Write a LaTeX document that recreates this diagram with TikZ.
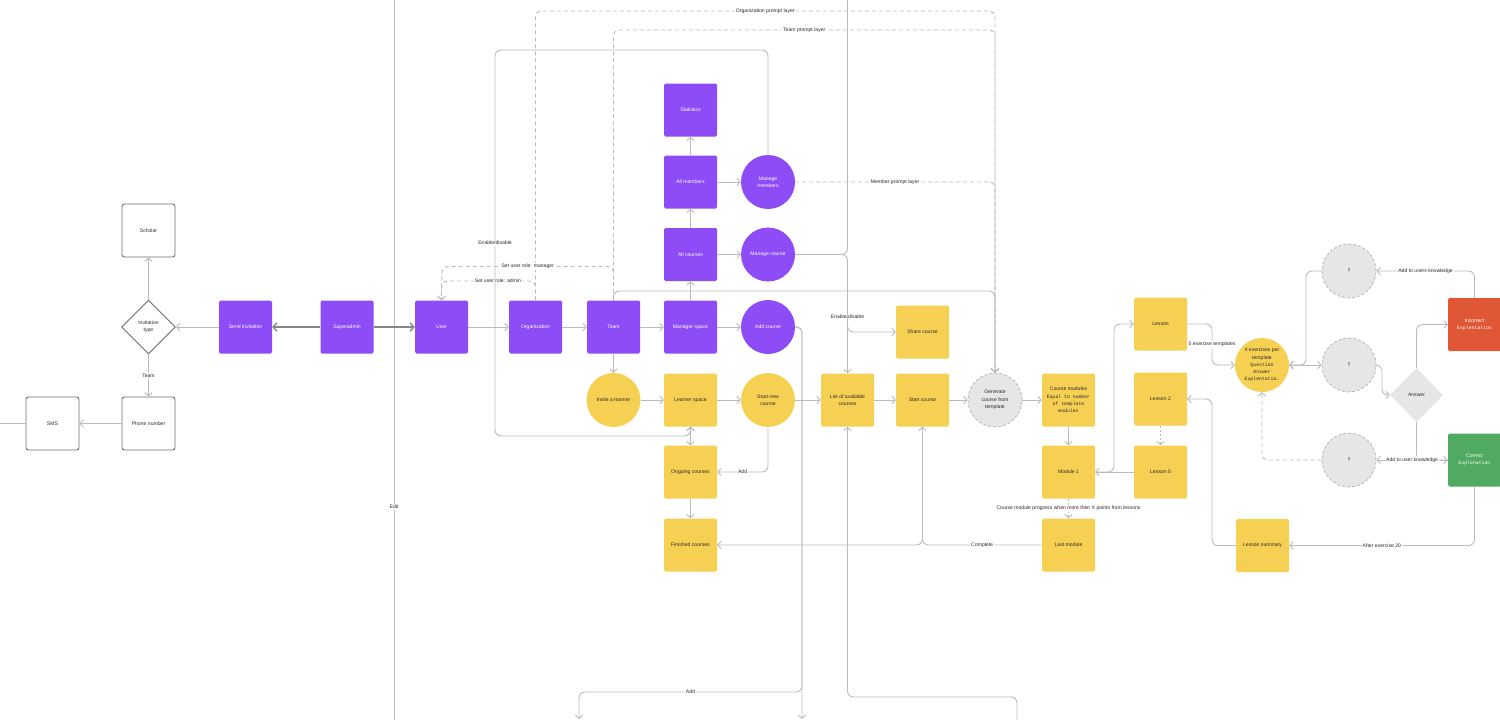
\documentclass[tikz,border=0pt]{standalone}
\usepackage{fontspec}
\setmainfont{Liberation Sans}
\newfontfamily\monof{Liberation Mono}
\newcommand\mtx[1]{{\monof\fontsize{4.8pt}{7.3pt}\selectfont #1}}
\usetikzlibrary{arrows.meta,shapes.geometric}
\definecolor{purp}{HTML}{8D4CF6}
\definecolor{yel}{HTML}{F6D053}
\definecolor{gcl}{HTML}{E6E6E6}
\definecolor{gbd}{HTML}{BDBDBD}
\definecolor{lnc}{HTML}{BBBBBB}
\definecolor{redc}{HTML}{E05736}
\definecolor{grnc}{HTML}{50AA62}
\definecolor{txt}{HTML}{2A2A2A}
\definecolor{obd}{HTML}{6E6E6E}
\definecolor{dgr}{HTML}{858585}
\tikzset{
 base/.style={font=\fontsize{5.1pt}{7.3pt}\selectfont, align=center, inner sep=0pt},
 sq/.style={base, minimum width=53pt, minimum height=53pt, rounded corners=1.5pt},
 pbox/.style={sq, fill=purp, text=white},
 ybox/.style={sq, fill=yel, text=txt},
 obox/.style={sq, fill=white, draw=obd, line width=0.9pt, rounded corners=2.5pt, text=txt},
 rbox/.style={sq, fill=redc, text=white},
 gbox/.style={sq, fill=grnc, text=white},
 circ/.style={base, circle, minimum size=54pt},
 pcirc/.style={circ, fill=purp, text=white},
 ycirc/.style={circ, fill=yel, text=txt},
 gcirc/.style={circ, fill=gcl, draw=gbd, dash pattern=on 3pt off 2pt, line width=0.9pt, text=txt},
 odiam/.style={base, diamond, minimum width=54pt, minimum height=54pt, fill=white, draw=obd, line width=0.9pt, text=txt},
 gdiam/.style={base, diamond, minimum width=53pt, minimum height=54pt, fill=gcl, text=txt},
 ln/.style={draw=lnc, line width=0.9pt, rounded corners=6pt},
 arr/.style={ln, -{Straight Barb[length=3.4pt, width=7.5pt]}},
 arrb/.style={ln, {Straight Barb[length=3.4pt, width=7.5pt]}-{Straight Barb[length=3.4pt, width=7.5pt]}},
 darr/.style={draw=dgr, line width=1.4pt, -{Straight Barb[length=3.8pt, width=8.5pt]}},
 dln/.style={ln, dash pattern=on 4pt off 3pt},
 darrd/.style={dln, -{Straight Barb[length=3.4pt, width=7.5pt]}},
 lbl/.style={base, fill=white, inner sep=1.2pt, text=txt},
}
\begin{document}
\begin{tikzpicture}[x=1pt,y=-1pt]
\fill[white] (0,0) rectangle (1500,720);
\useasboundingbox (0,0) rectangle (1500,720);

% free end points
\coordinate (leftend) at (0,423.5);
\coordinate (edtop) at (394,0);
\coordinate (edbot) at (394,720);
\coordinate (topline) at (847.5,0);
\coordinate (botA) at (802,719);
\coordinate (botB) at (579,719);
\coordinate (botC) at (1017,720);
\coordinate (vj) at (847.5,300);

% edit line
\draw[ln] (edtop) -- node[lbl,pos=0.704]{Edit} (edbot);

% nodes
\node[obox] (scholar) at (148.5,230.5) {Scholar};
\node[odiam] (invt) at (148.5,327) {Invitation\\type};
\node[obox] (phone) at (148.5,423.5) {Phone number};
\node[obox] (sms) at (52.5,423.5) {SMS};
\node[pbox] (send) at (245.5,327) {Send invitation};
\node[pbox] (sadmin) at (347,327) {Superadmin};
\node[pbox] (user) at (441.5,327) {User};
\node[pbox] (org) at (535.5,327) {Organization};
\node[pbox] (team) at (613.5,327) {Team};
\node[pbox] (mspace) at (690.5,327) {Manager space};
\node[pcirc] (addc) at (768,327) {Add course};
\node[pbox] (allc) at (690.5,254.5) {All courses};
\node[pcirc] (manc) at (768,254.5) {Manage course};
\node[pbox] (allm) at (690.5,182) {All members};
\node[pcirc] (manm) at (768,182) {Manage\\members};
\node[pbox] (stats) at (690.5,110) {Statistics};
\node[ycirc] (invl) at (613.5,400) {Invite a learner};
\node[ybox] (lspace) at (690.5,400) {Learner space};
\node[ycirc] (startnew) at (768,400) {Start new\\course};
\node[ybox] (ongoing) at (690.5,472) {Ongoing courses};
\node[ybox] (finished) at (690.5,545) {Finished courses};
\node[ybox] (list) at (847.5,400) {List of available\\courses};
\node[ybox] (share) at (922.5,332) {Share course};
\node[ybox] (startc) at (922.5,400) {Start course};
\node[gcirc] (gen) at (995,400) {Generate\\course from\\template};
\node[ybox] (cmod) at (1068.5,400) {Course modules\\\mtx{Equal to number}\\\mtx{of template}\\\mtx{modules}};
\node[ybox] (mod1) at (1068.5,472) {Module 1};
\node[ybox] (lastm) at (1068.5,545) {Last module};
\node[ybox] (lesson) at (1160.5,324) {Lesson};
\node[ybox] (lesson2) at (1160.5,399) {Lesson 2};
\node[ybox] (lesson5) at (1160.5,472) {Lesson 5};
\node[ycirc] (ex) at (1262,365) {4 exercises per\\template\\\mtx{Question}\\\mtx{Answer}\\\mtx{Explentatio…}};
\node[gcirc] (q1) at (1349,271) {?};
\node[gcirc] (q2) at (1349,365) {?};
\node[gcirc] (q3) at (1349,460) {?};
\node[gdiam] (ans) at (1416.5,395) {Answer};
\node[rbox] (incor) at (1474.5,324.5) {Incorrect\\\mtx{Explentation}};
\node[gbox] (cor) at (1474.5,460) {Correct\\\mtx{Explenation}};
\node[ybox] (lsum) at (1262.5,545.5) {Lesson summary};

% left part
\draw[darr] (sadmin) -- (send);
\draw[darr] (sadmin) -- (user);
\draw[arr] (send) -- (invt);
\draw[arr] (invt) -- (scholar);
\draw[arr] (invt) -- node[lbl]{Team} (phone);
\draw[arr] (phone) -- (sms);
\draw[ln] (sms) -- (leftend);

% main row
\draw[arr] (user) -- (org);
\draw[arr] (org) -- (team);
\draw[arr] (team) -- (mspace);
\draw[arr] (mspace) -- (addc);
\draw[arr] (mspace) -- (allc);
\draw[arr] (allc) -- (manc);
\draw[arr] (allc) -- (allm);
\draw[arr] (allm) -- (manm);
\draw[arr] (allm) -- (stats);

% learner row
\draw[arr] (team) -- (invl);
\draw[arr] (invl) -- (lspace);
\draw[arr] (lspace) -- (startnew);
\draw[arr] (startnew) -- (list);
\draw[arr] (list) -- (startc);
\draw[arr] (startc) -- (gen);
\draw[arr] (gen) -- (cmod);
\draw[arr] (cmod) -- (mod1);
\draw[arrb] (lspace) -- (ongoing);
\draw[arr] (ongoing) -- (finished);
\draw[arr] (startnew.south) |- node[lbl,pos=0.75]{Add} (ongoing.east);
\draw[arr] (lastm.west) -| node[lbl,pos=0.25]{Complete} (startc.south);
\draw[arr] (startc.south) |- (finished.east);

% modules and lessons
\draw[arr] (lesson5) -- (mod1);
\draw[arr] (mod1.east) -- (1114,472) -- (1114,324) -- (lesson.west);
\draw[darrd, dash pattern=on 2pt off 2pt] (lesson2) -- (lesson5);
\draw[darrd, dash pattern=on 2pt off 2pt] (mod1) -- node[lbl]{Course module progress when more then X points from lessons} (lastm);
\draw[arr] (lesson.east) -- (1212,324) -- node[lbl]{5 exercise templates} (1212,365) -- (ex.west);
\draw[arr] (lsum.west) -- (1212,545.5) -- (1212,399) -- (lesson2.east);

% exercise loop
\draw[arrb] (ex) -- (q2);
\draw[arr] (q1.west) -- (1306,271) -- (1306,365) -- (ex.east);
\draw[arr] (q2.east) -- (1382,365) -- (1382,395) -- (ans.west);
\draw[arr] (ans.north) |- (incor.west);
\draw[arr] (ans.south) |- (cor.west);
\draw[arr] (cor.west) -- node[lbl]{Add to user knowledge} (q3.east);
\draw[arr] (incor.north) |- node[lbl,pos=0.75]{Add to users knowledge} (q1.east);
\draw[arr] (cor.south) |- node[lbl,pos=0.75]{After exercise 20} (lsum.east);
\draw[darrd] (q3.west) -| (ex.south);

% upper connectors
\draw[arr] (team.north) -- (613.5,291) -- (995,291) -- (gen.north);
\draw[darrd] (org.north) -- (535.5,11) -- node[lbl]{Organization prompt layer} (995,11) -- (gen.north);
\draw[darrd] (team.north) -- (613.5,30) -- node[lbl]{Team prompt layer} (995,30) -- (gen.north);
\draw[darrd] (manm.east) -- node[lbl]{Member prompt layer} (995,182) -- (gen.north);
\draw[darrd] (team.north) -- (613.5,266.5) -- node[lbl]{Set user role: manager} (442,266.5) -- (user.north);
\draw[darrd] (org.north) -- (535.5,281) -- node[lbl,pos=0.4]{Set user role: admin} (441.5,281) -- (user.north);
\draw[arr] (manm.north) -- (768,50) -- (495,50) -- node[lbl]{Enable/disable} (495,436) -- (690.5,436) -- (lspace.south);
\draw[ln] (topline) |- (manc.east);
\draw[arr] (manc.east) -| node[lbl,pos=0.76]{Enable/disable} (list.north);
\draw[arr] (vj) -- (847.5,332) -- (share.west);

% bottom connectors
\draw[arr] (addc.east) -| (botA);
\draw[arr] (addc.east) -- (802,327) -- (802,692) -- node[lbl]{Add} (579,692) -- (botB);
\draw[arr] (botC) -- (1017,697) -- (847.5,697) -- (list.south);
\end{tikzpicture}
\end{document}
